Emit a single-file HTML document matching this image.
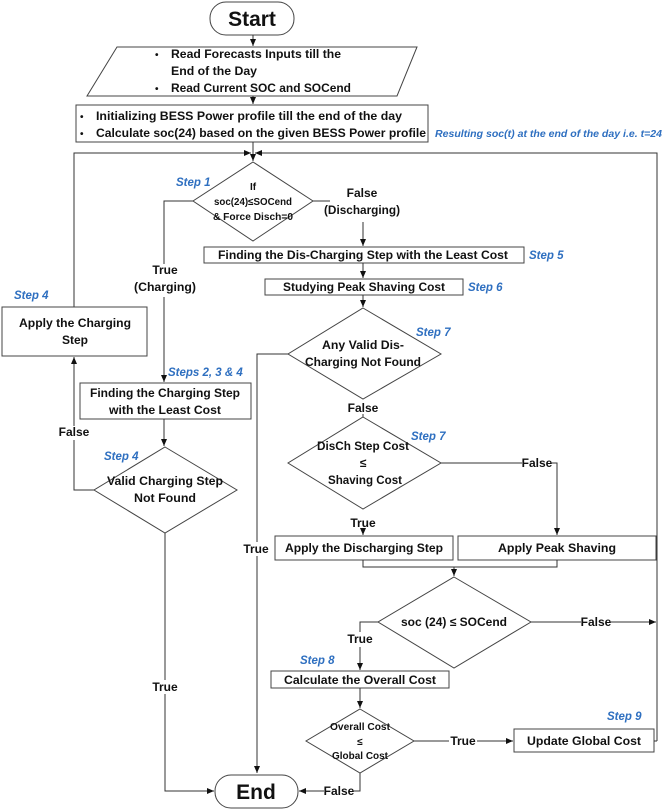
<!DOCTYPE html>
<html><head><meta charset="utf-8"><style>
html,body{margin:0;padding:0;background:#fff;}
svg{display:block;}
text{font-family:"Liberation Sans",sans-serif;font-size:12px;fill:#111;font-weight:bold;}
.s{fill:#2e6fc0;font-style:italic;font-size:11.5px;}
.l{fill:none;stroke:#333;stroke-width:1;}
.bx{fill:#fff;stroke:#444;stroke-width:1;}
</style></head><body>
<svg width="663" height="810" viewBox="0 0 663 810" xmlns="http://www.w3.org/2000/svg">
<defs><marker id="a" markerWidth="8" markerHeight="8" refX="7" refY="4" orient="auto" markerUnits="userSpaceOnUse"><path d="M0,1 L7,4 L0,7 z" fill="#111"/></marker></defs>

<rect class="bx" x="210" y="2" width="84" height="33" rx="16"/>
<text x="252" y="26" text-anchor="middle" style="font-size:21px">Start</text>
<line class="l" x1="253" y1="35" x2="253" y2="46" marker-end="url(#a)"/>

<polygon class="bx" points="117,47 417,47 397,96 87,96"/>
<text x="155" y="58" style="font-size:10px">•</text><text x="171" y="58" textLength="170" lengthAdjust="spacingAndGlyphs">Read Forecasts Inputs till the</text>
<text x="171" y="75" textLength="86" lengthAdjust="spacingAndGlyphs">End of the Day</text>
<text x="155" y="92" style="font-size:10px">•</text><text x="171" y="92" textLength="180" lengthAdjust="spacingAndGlyphs">Read Current SOC and SOCend</text>
<line class="l" x1="253" y1="96" x2="253" y2="104" marker-end="url(#a)"/>

<rect class="bx" x="76" y="105" width="352" height="37"/>
<text x="80" y="120" style="font-size:10px">•</text><text x="96" y="120" textLength="306" lengthAdjust="spacingAndGlyphs">Initializing BESS Power profile till the end of the day</text>
<text x="80" y="137" style="font-size:10px">•</text><text x="96" y="137" textLength="330" lengthAdjust="spacingAndGlyphs">Calculate soc(24) based on the given BESS Power profile</text>
<text class="s" x="435" y="137" textLength="227" lengthAdjust="spacingAndGlyphs" style="font-size:10px">Resulting soc(t) at the end of the day i.e. t=24</text>
<line class="l" x1="253" y1="142" x2="253" y2="161" marker-end="url(#a)"/>

<polyline class="l" points="74,307 74,153 251,153" marker-end="url(#a)"/>
<polyline class="l" points="657,741 657,153 255,153" marker-end="url(#a)"/>

<polygon class="bx" points="253,162 313,201 253,241 193,201"/>
<text x="253" y="190" text-anchor="middle" style="font-size:10px">If</text>
<text x="253" y="205" text-anchor="middle" style="font-size:10px" textLength="78" lengthAdjust="spacingAndGlyphs">soc(24)≤SOCend</text>
<text x="253" y="220" text-anchor="middle" style="font-size:10px" textLength="80" lengthAdjust="spacingAndGlyphs">&amp; Force Disch=0</text>
<text class="s" x="176" y="186">Step 1</text>
<line class="l" x1="313" y1="201" x2="330" y2="201"/>
<text x="362" y="197" text-anchor="middle">False</text>
<text x="362" y="214" text-anchor="middle" textLength="76" lengthAdjust="spacingAndGlyphs">(Discharging)</text>
<line class="l" x1="363" y1="222" x2="363" y2="246" marker-end="url(#a)"/>

<rect class="bx" x="204" y="247" width="320" height="16"/>
<text x="363" y="259" text-anchor="middle" textLength="290" lengthAdjust="spacingAndGlyphs">Finding the Dis-Charging Step with the Least Cost</text>
<text class="s" x="529" y="259">Step 5</text>
<line class="l" x1="363" y1="263" x2="363" y2="278" marker-end="url(#a)"/>
<rect class="bx" x="265" y="279" width="198" height="16"/>
<text x="364" y="291" text-anchor="middle" textLength="162" lengthAdjust="spacingAndGlyphs">Studying Peak Shaving Cost</text>
<text class="s" x="468" y="291">Step 6</text>
<line class="l" x1="363" y1="295" x2="363" y2="307" marker-end="url(#a)"/>

<polyline class="l" points="193,201 164,201 164,264"/>
<text x="165" y="274" text-anchor="middle">True</text>
<text x="165" y="291" text-anchor="middle" textLength="62" lengthAdjust="spacingAndGlyphs">(Charging)</text>
<line class="l" x1="164" y1="297" x2="164" y2="382" marker-end="url(#a)"/>
<text class="s" x="168" y="376">Steps 2, 3 &amp; 4</text>
<rect class="bx" x="80" y="383" width="171" height="36"/>
<text x="165" y="397" text-anchor="middle" textLength="150" lengthAdjust="spacingAndGlyphs">Finding the Charging Step</text>
<text x="165" y="414" text-anchor="middle" textLength="112" lengthAdjust="spacingAndGlyphs">with the Least Cost</text>
<line class="l" x1="164" y1="419" x2="164" y2="446" marker-end="url(#a)"/>
<polygon class="bx" points="165,447 237,490 165,533 94,490"/>
<text x="165" y="485" text-anchor="middle" textLength="116" lengthAdjust="spacingAndGlyphs">Valid Charging Step</text>
<text x="165" y="502" text-anchor="middle" textLength="62" lengthAdjust="spacingAndGlyphs">Not Found</text>
<text class="s" x="104" y="460">Step 4</text>
<polyline class="l" points="94,490 74,490 74,357" marker-end="url(#a)"/>
<rect x="62" y="426" width="26" height="14" fill="#fff"/>
<text x="74" y="436" text-anchor="middle">False</text>
<rect class="bx" x="2" y="307" width="145" height="49"/>
<text x="75" y="327" text-anchor="middle" textLength="112" lengthAdjust="spacingAndGlyphs">Apply the Charging</text>
<text x="75" y="344" text-anchor="middle">Step</text>
<text class="s" x="14" y="299">Step 4</text>
<polyline class="l" points="165,533 165,791 214,791" marker-end="url(#a)"/>
<rect x="150" y="680" width="30" height="14" fill="#fff"/>
<text x="165" y="691" text-anchor="middle">True</text>

<polygon class="bx" points="363,308 441,354 363,399 288,354"/>
<text x="363" y="349" text-anchor="middle" textLength="82" lengthAdjust="spacingAndGlyphs">Any Valid Dis-</text>
<text x="363" y="366" text-anchor="middle" textLength="116" lengthAdjust="spacingAndGlyphs">Charging Not Found</text>
<text class="s" x="416" y="336">Step 7</text>
<polyline class="l" points="288,354 257,354 257,773" marker-end="url(#a)"/>
<rect x="241" y="542" width="30" height="14" fill="#fff"/>
<text x="256" y="553" text-anchor="middle">True</text>
<text x="363" y="412" text-anchor="middle">False</text>
<line class="l" x1="363" y1="414" x2="363" y2="417"/>

<polygon class="bx" points="363,417 441,463 363,509 288,463"/>
<text x="363" y="450" text-anchor="middle" textLength="92" lengthAdjust="spacingAndGlyphs">DisCh Step Cost</text>
<text x="363" y="467" text-anchor="middle">≤</text>
<text x="365" y="484" text-anchor="middle" textLength="74" lengthAdjust="spacingAndGlyphs">Shaving Cost</text>
<text class="s" x="411" y="440">Step 7</text>
<polyline class="l" points="441,463 557,463 557,535" marker-end="url(#a)"/>
<rect x="522" y="456" width="30" height="14" fill="#fff"/>
<text x="537" y="467" text-anchor="middle">False</text>
<text x="363" y="527" text-anchor="middle">True</text>
<line class="l" x1="363" y1="529" x2="363" y2="535" marker-end="url(#a)"/>

<rect class="bx" x="275" y="536" width="178" height="24"/>
<text x="364" y="552" text-anchor="middle" textLength="158" lengthAdjust="spacingAndGlyphs">Apply the Discharging Step</text>
<rect class="bx" x="458" y="536" width="198" height="24"/>
<text x="557" y="552" text-anchor="middle" textLength="118" lengthAdjust="spacingAndGlyphs">Apply Peak Shaving</text>
<polyline class="l" points="363,560 363,567 557,567 557,560"/>
<line class="l" x1="454" y1="567" x2="454" y2="576" marker-end="url(#a)"/>

<polygon class="bx" points="454,577 531,622 454,668 378,622"/>
<text x="454" y="626" text-anchor="middle" textLength="106" lengthAdjust="spacingAndGlyphs">soc (24) ≤ SOCend</text>
<line class="l" x1="531" y1="622" x2="656" y2="622" marker-end="url(#a)"/>
<rect x="581" y="615" width="30" height="14" fill="#fff"/>
<text x="596" y="626" text-anchor="middle">False</text>
<polyline class="l" points="378,622 360,622 360,632"/>
<text x="360" y="643" text-anchor="middle">True</text>
<line class="l" x1="360" y1="647" x2="360" y2="670" marker-end="url(#a)"/>
<text class="s" x="300" y="664">Step 8</text>
<rect class="bx" x="271" y="671" width="178" height="17"/>
<text x="360" y="684" text-anchor="middle" textLength="152" lengthAdjust="spacingAndGlyphs">Calculate the Overall Cost</text>
<line class="l" x1="360" y1="688" x2="360" y2="708" marker-end="url(#a)"/>

<polygon class="bx" points="360,709 414,741 360,773 306,741"/>
<text x="360" y="730" text-anchor="middle" style="font-size:10px" textLength="60" lengthAdjust="spacingAndGlyphs">Overall Cost</text>
<text x="360" y="745" text-anchor="middle" style="font-size:10px">≤</text>
<text x="360" y="759" text-anchor="middle" style="font-size:10px" textLength="56" lengthAdjust="spacingAndGlyphs">Global Cost</text>
<line class="l" x1="414" y1="741" x2="513" y2="741" marker-end="url(#a)"/>
<rect x="449" y="734" width="28" height="14" fill="#fff"/>
<text x="463" y="745" text-anchor="middle">True</text>
<rect class="bx" x="514" y="729" width="140" height="23"/>
<text x="584" y="745" text-anchor="middle" textLength="114" lengthAdjust="spacingAndGlyphs">Update Global Cost</text>
<text class="s" x="607" y="720">Step 9</text>
<line class="l" x1="654" y1="741" x2="657" y2="741"/>
<polyline class="l" points="360,773 360,791 299,791" marker-end="url(#a)"/>
<rect x="324" y="784" width="30" height="14" fill="#fff"/>
<text x="339" y="795" text-anchor="middle">False</text>

<rect class="bx" x="215" y="775" width="83" height="33" rx="16"/>
<text x="256" y="799" text-anchor="middle" style="font-size:21px">End</text>
</svg>
</body></html>
